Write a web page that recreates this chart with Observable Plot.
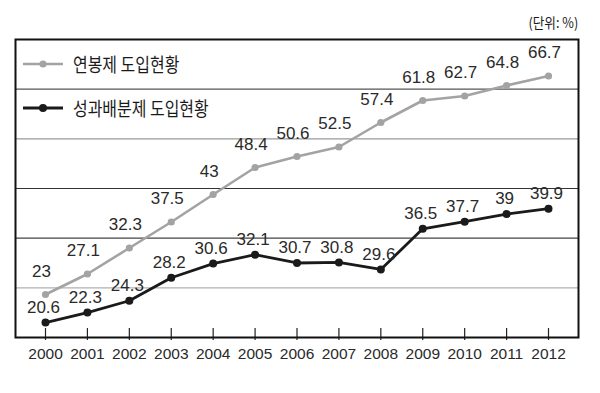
<!DOCTYPE html>
<html><head><meta charset="utf-8">
<script src="https://cdn.jsdelivr.net/npm/d3@7"></script>
<script src="https://cdn.jsdelivr.net/npm/@observablehq/plot@0.6"></script>
<style>
body{margin:0;background:#fff}
#wrap{position:relative;width:600px;height:393px;overflow:hidden;background:#fff}
#wrap svg.plotlayer{position:absolute;left:0;top:0}
.leg{position:absolute;left:23px;height:24px;display:flex;align-items:center}
.leg span{position:absolute;left:50px;white-space:nowrap;font-family:"Noto Sans CJK KR",sans-serif;font-size:19px;color:#1a1a1a;transform:scaleX(0.84);transform-origin:left center;line-height:24px}
.unit{position:absolute;right:22px;top:12px;font-family:"Noto Sans CJK KR",sans-serif;font-size:14px;color:#1a1a1a;transform:scaleX(0.9);transform-origin:right center;line-height:20px}
</style></head><body><div id="wrap"></div>
<script>
const years = [2000,2001,2002,2003,2004,2005,2006,2007,2008,2009,2010,2011,2012];
const salaryValues = [23,27.1,32.3,37.5,43,48.4,50.6,52.5,57.4,61.8,62.7,64.8,66.7];
const profitValues = [20.6,22.3,24.3,28.2,30.6,32.1,30.7,30.8,29.6,36.5,37.7,39,39.9];
const seriesNames = ["연봉제 도입현황","성과배분제 도입현황"];
const unitLabel = "(단위: %)";

const gray = "#a3a3a3", black = "#1a1a1a";
const numFont = '"Liberation Sans",Arial,sans-serif';
const W = 600, H = 393;
const dims = {width: W, height: H, marginTop: 39, marginBottom: 56, marginLeft: 15, marginRight: 22,
  insetLeft: 30, insetRight: 30};
const xOpt = {type: "linear", domain: [2000, 2012]};

const salary = years.map((year, i) => ({year, value: salaryValues[i]}));
const profit = years.map((year, i) => ({year, value: profitValues[i]}));

const wrap = document.getElementById("wrap");

// base layer: grid, ticks, frame, x axis (frame divided into 6 equal bands)
const gridBands = [1,2,3,4,5];
const gridColors = ["#b0b0b0","#444","#333","#999","#555"];
const base = Plot.plot({
  ...dims,
  x: xOpt,
  y: {domain: [0, 6], axis: null},
  marks: [
    Plot.ruleY(gridBands, {y: d => d, stroke: (d, i) => gridColors[i], strokeWidth: 1.2}),
    Plot.ruleX(years, {x: d => d, y1: -0.06, y2: 0.18, stroke: "#222", strokeWidth: 1.2}),
    Plot.frame({stroke: "#111", strokeWidth: 2}),
    Plot.axisX({ticks: years, tickFormat: d => String(d), tickSize: 0, tickPadding: 10,
      fontSize: 15.5, fontFamily: numFont, fill: "#2a2a2a"})
  ]
});
base.classList.add("plotlayer");
wrap.appendChild(base);

function seriesLayer(data, domain, color, lw, r, dx, dy) {
  const p = Plot.plot({
    ...dims,
    style: {background: "transparent"},
    x: {...xOpt, axis: null},
    y: {domain, axis: null},
    marks: [
      Plot.line(data, {x: "year", y: "value", stroke: color, strokeWidth: lw}),
      Plot.dot(data, {x: "year", y: "value", r, fill: color, stroke: "none"}),
      Plot.text(data, {x: "year", y: "value", text: d => String(d.value), dx, dy,
        fontSize: 17, fontFamily: numFont, fill: "#2a2a2a"})
    ]
  });
  p.classList.add("plotlayer");
  wrap.appendChild(p);
}
seriesLayer(salary, [14.4, 74], gray, 2.6, 3.6, -4, -23);
seriesLayer(profit, [18.07, 68.58], black, 2.8, 4, -2, -15);

// legend
const legRows = [{name: seriesNames[0], color: gray, top: 52, lw: 2.6, r: 3.6},
                 {name: seriesNames[1], color: black, top: 96, lw: 2.8, r: 4}];
for (const row of legRows) {
  const div = document.createElement("div");
  div.className = "leg";
  div.style.top = row.top + "px";
  div.innerHTML = `<svg width="44" height="24"><line x1="0" x2="40" y1="12" y2="12" stroke="${row.color}" stroke-width="${row.lw}"/><circle cx="20" cy="12" r="${row.r}" fill="${row.color}"/></svg><span>${row.name}</span>`;
  wrap.appendChild(div);
}
const unit = document.createElement("div");
unit.className = "unit";
unit.textContent = unitLabel;
wrap.appendChild(unit);
</script></body></html>
